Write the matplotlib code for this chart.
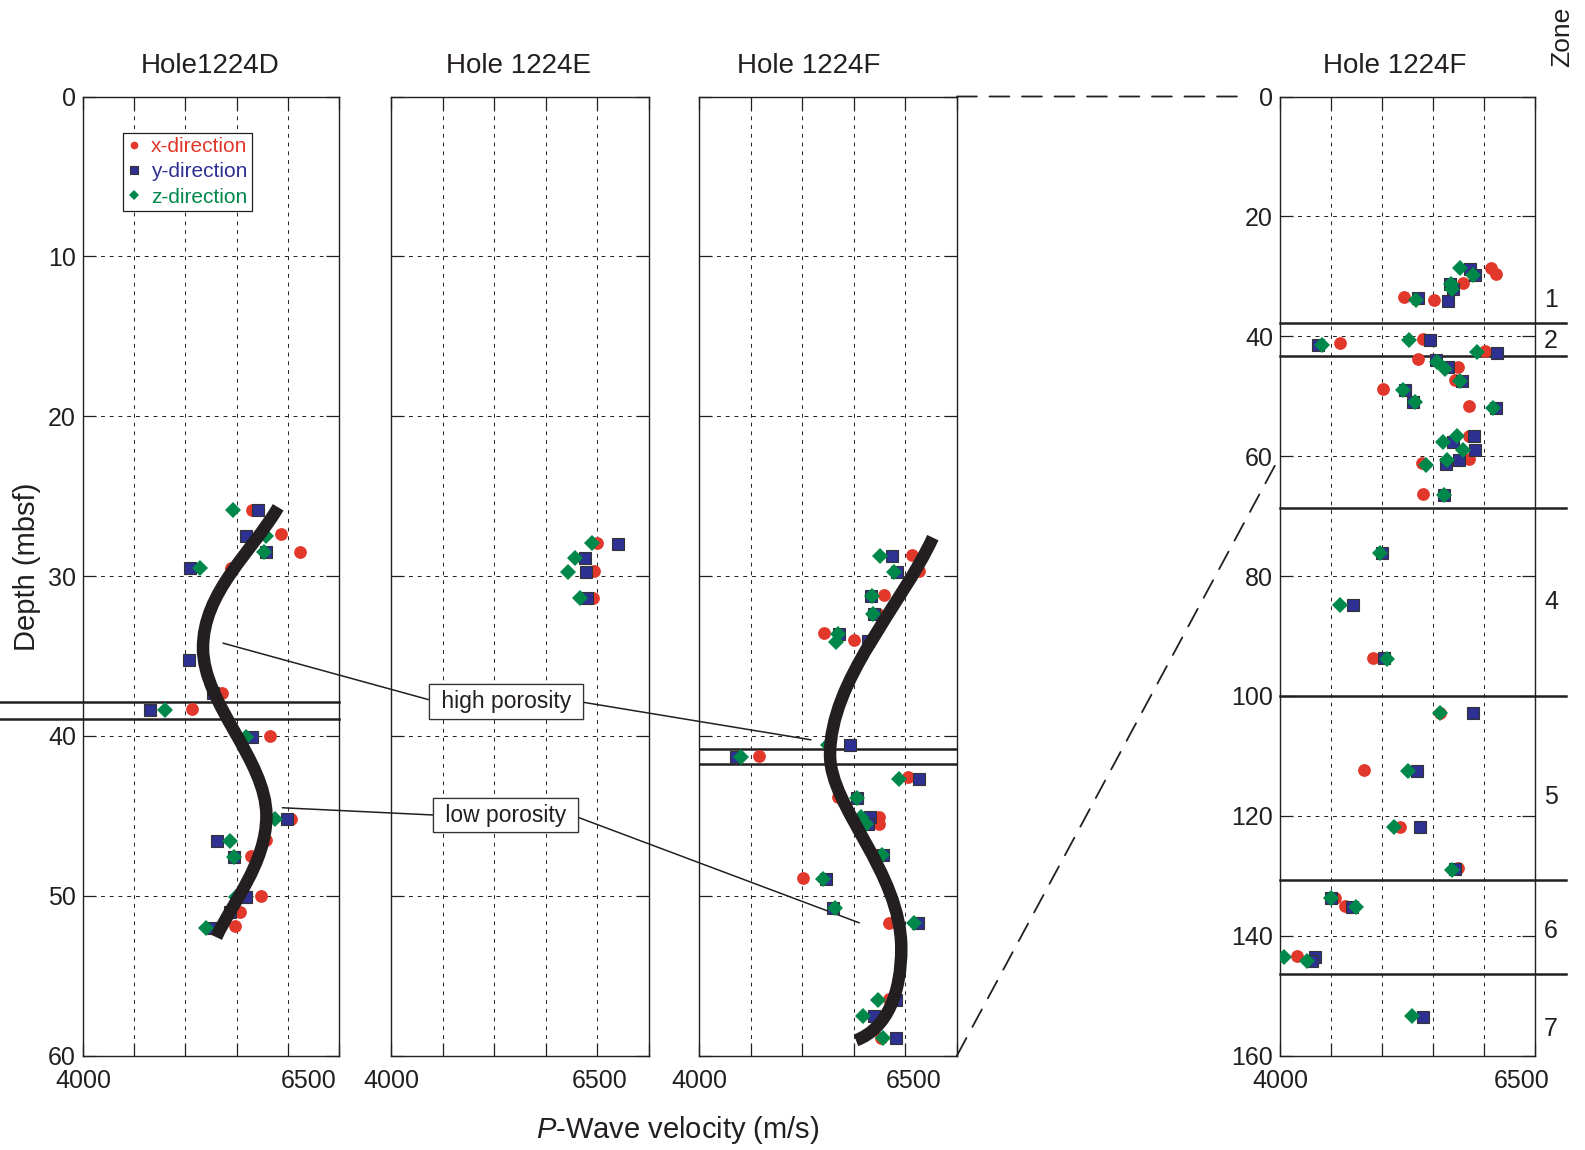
import matplotlib
matplotlib.use("Agg")
import matplotlib.pyplot as plt
import matplotlib.patches as mpatches
from matplotlib.path import Path
from matplotlib.transforms import ScaledTranslation

plt.rcParams["font.family"] = "Liberation Sans"
plt.rcParams["mathtext.fontset"] = "custom"
plt.rcParams["mathtext.rm"] = "Liberation Sans"
plt.rcParams["mathtext.it"] = "Liberation Sans:italic"

# ============================================================
# Data (velocity m/s, depth mbsf)
# ============================================================

# Hole 1224D
D_x_vel = [5650, 5937, 6116, 5449, 5361, 5068, 5823, 6028, 5791, 5644, 5742, 5530, 5481]
D_x_dep = [25.9, 27.4, 28.5, 29.5, 37.3, 38.3, 40.0, 45.2, 46.5, 47.5, 50.0, 51.0, 51.9]
D_y_vel = [5709, 5596, 5791, 5049, 5035, 5270, 4651, 5654, 5996, 5309, 5475, 5596, 5439, 5270]
D_y_dep = [25.9, 27.5, 28.5, 29.5, 35.25, 37.3, 38.4, 40.1, 45.2, 46.6, 47.6, 50.1, 51.0, 52.0]
D_z_vel = [5465, 5784, 5768, 5147, 4801, 5589, 5872, 5433, 5475, 5498, 5205]
D_z_dep = [25.9, 27.5, 28.5, 29.5, 38.4, 40.1, 45.2, 46.6, 47.6, 50.1, 52.0]

# Hole 1224E
E_x_vel = [6000, 5969, 5959]
E_x_dep = [27.95, 29.7, 31.4]
E_y_vel = [6197, 5875, 5891, 5897]
E_y_dep = [28.0, 28.85, 29.75, 31.4]
E_z_vel = [5947, 5781, 5712, 5828]
E_z_dep = [27.95, 28.85, 29.75, 31.4]

# Hole 1224F (0-60 m)
F_x_vel = [6065, 6130, 5796, 5731, 5213, 5504, 4581, 6023, 5343, 5748, 5748, 5715,
           5009, 5845, 5845, 5764]
F_x_dep = [28.66, 29.7, 31.18, 32.35, 33.58, 34.02, 41.24, 42.58, 43.85, 45.08, 45.49,
           47.43, 48.88, 51.74, 56.48, 58.89]
F_y_vel = [5867, 5919, 5667, 5699, 5352, 5634, 5466, 4354, 6130, 5531, 5660, 5634,
           5780, 5229, 5294, 6120, 5910, 5699, 5910]
F_y_dep = [28.73, 29.78, 31.27, 32.35, 33.64, 34.09, 40.57, 41.33, 42.67, 43.92, 45.08,
           45.49, 47.43, 48.93, 50.78, 51.74, 56.53, 57.55, 58.89]
F_z_vel = [5757, 5893, 5676, 5689, 5346, 5326, 5252, 4403, 5936, 5531, 5569, 5618,
           5770, 5197, 5320, 6088, 5731, 5592, 5786]
F_z_dep = [28.73, 29.78, 31.27, 32.4, 33.64, 34.13, 40.57, 41.33, 42.67, 43.92, 45.08,
           45.53, 47.47, 48.93, 50.78, 51.74, 56.53, 57.55, 58.89]

# Hole 1224F (0-160 m)
G_x_vel = [6073, 6116, 5796, 5216, 5509, 4590, 5399, 6008, 5356, 5747, 5715, 5014,
           5855, 5855, 5855, 5389, 5399, 4910, 5568, 4828, 5177, 5747, 4541, 4639, 4166]
G_x_dep = [28.55, 29.66, 31.06, 33.46, 34.0, 41.2, 40.45, 42.5, 43.8, 45.2, 47.26, 48.83,
           51.6, 56.65, 60.4, 61.1, 66.4, 93.6, 102.9, 112.4, 121.8, 128.7, 133.65, 135.0,
           143.4]
G_y_vel = [5861, 5910, 5666, 5699, 5356, 5650, 4368, 5470, 6132, 5529, 5650, 5780,
           5226, 5301, 6116, 5904, 5699, 5910, 5754, 5627, 5610, 4998, 4714, 5020,
           5894, 5346, 5372, 5715, 4502, 4704, 4339, 4313, 5405]
G_y_dep = [28.7, 29.7, 31.2, 32.2, 33.6, 34.1, 41.4, 40.6, 42.8, 43.9, 45.2, 47.54,
           49.0, 50.95, 51.9, 56.65, 57.65, 59.0, 60.6, 61.3, 66.5, 76.1, 84.8, 93.76,
           102.9, 112.5, 121.9, 128.9, 133.65, 135.2, 143.6, 144.2, 153.5]
G_z_vel = [5764, 5894, 5676, 5682, 5333, 4411, 5265, 5936, 5535, 5617, 5764, 5203,
           5324, 6090, 5731, 5594, 5790, 5633, 5428, 5610, 4981, 4590, 5046, 5568,
           5258, 5121, 5682, 4502, 4747, 4042, 4264, 5297]
G_z_dep = [28.6, 29.83, 31.2, 32.2, 34.0, 41.4, 40.6, 42.7, 44.36, 45.5, 47.54, 49.0,
           50.95, 51.9, 56.65, 57.65, 58.9, 60.6, 61.4, 66.5, 76.1, 84.8, 93.9, 102.9,
           112.5, 121.9, 129.0, 133.8, 135.2, 143.6, 144.25, 153.4]

# porosity trend curves (cubic Bezier control points)
D_curve_vel = [5906, 5650, 5172, 5172, 5172, 5791, 5791, 5791, 5450, 5302]
D_curve_dep = [25.7, 28.5, 31.0, 34.5, 38.0, 41.5, 45.0, 48.0, 50.5, 52.6]
F_curve_vel = [6266, 5950, 5270, 5270, 5270, 5960, 5960, 5960, 5830, 5521]
F_curve_dep = [27.6, 32.0, 36.5, 41.2, 44.5, 48.5, 53.3, 56.0, 58.3, 59.05]

# boundaries
D_bounds = [37.9, 38.96]
F_bounds = [40.85, 41.75]
G_bounds = [37.8, 43.35, 68.6, 100.0, 130.8, 146.4]
zone_names = ["1", "2", "4", "5", "6", "7"]
zone_depths = [33.9, 40.8, 84.4, 116.9, 139.2, 155.5]

titles = ["Hole1224D", "Hole 1224E", "Hole 1224F", "Hole 1224F"]
vel_ticks = [4000, 4500, 5000, 5500, 6000, 6500]
vel_labels = ["4000", "", "", "", "", "6500"]

RED = "#e2382b"
BLUE = "#2e3192"
GREEN = "#00874a"
INK = "#231f20"

# ============================================================
# Figure
# ============================================================

W, H = 1585, 1150
fig = plt.figure(figsize=(W / 100, H / 100), dpi=100)


def add_px_axes(left, top, width, height):
    return fig.add_axes([left / W, 1 - (top + height) / H, width / W, height / H])


top, height = 96.5, 959
ax1 = add_px_axes(83, top, 256, height)
ax2 = add_px_axes(391, top, 258, height)
ax3 = add_px_axes(699, top, 258, height)
ax4 = add_px_axes(1280, top, 255, height)
axes = [ax1, ax2, ax3, ax4]

label_shift = [-30, -49, -43, -13]
title_x = [0.496, 0.494, 0.425, 0.45]

for i, ax in enumerate(axes):
    ax.set_facecolor("none")
    ax.set_xlim(4000, 6500)
    ax.set_xticks(vel_ticks)
    ax.set_xticklabels(vel_labels)
    if i < 3:
        ax.set_ylim(60, 0)
        ax.set_yticks(range(0, 61, 10))
    else:
        ax.set_ylim(160, 0)
        ax.set_yticks(range(0, 161, 20))
    if i in (1, 2):
        ax.set_yticklabels([])
    ax.tick_params(direction="in", length=9.5, width=0.9, top=True, right=True,
                   labelsize=18, colors=INK)
    ax.tick_params(axis="x", pad=10)
    ax.tick_params(axis="y", pad=5)
    ax.grid(True, color=INK, lw=0.7, linestyle=(0, (4, 5)))
    for sp in ax.spines.values():
        sp.set_linewidth(1.0)
        sp.set_color(INK)
    ax.set_title(titles[i], fontsize=20, color=INK, x=title_x[i], pad=17)

    lab = ax.get_xticklabels()[-1]
    lab.set_transform(lab.get_transform()
                      + ScaledTranslation(label_shift[i] / 100, 0, fig.dpi_scale_trans))


def draw_points(ax, xv, xd, yv, yd, zv, zd):
    ax.plot(xv, xd, ls="none", marker="o", ms=9.2, mfc=RED, mec=RED, mew=0,
            label="x-direction", zorder=3)
    ax.plot(yv, yd, ls="none", marker="s", ms=9.3, mfc=BLUE, mec="#333333", mew=0.8,
            label="y-direction", zorder=4)
    ax.plot(zv, zd, ls="none", marker="D", ms=8.0, mfc=GREEN, mec=GREEN, mew=0,
            label="z-direction", zorder=5)


draw_points(ax1, D_x_vel, D_x_dep, D_y_vel, D_y_dep, D_z_vel, D_z_dep)
draw_points(ax2, E_x_vel, E_x_dep, E_y_vel, E_y_dep, E_z_vel, E_z_dep)
draw_points(ax3, F_x_vel, F_x_dep, F_y_vel, F_y_dep, F_z_vel, F_z_dep)
draw_points(ax4, G_x_vel, G_x_dep, G_y_vel, G_y_dep, G_z_vel, G_z_dep)


def draw_curve(ax, vel, dep):
    codes = [Path.MOVETO] + [Path.CURVE4] * (len(vel) - 1)
    path = Path(list(zip(vel, dep)), codes)
    ax.add_patch(mpatches.PathPatch(path, fc="none", ec=INK, lw=9,
                                    capstyle="butt", zorder=6))


draw_curve(ax1, D_curve_vel, D_curve_dep)
draw_curve(ax3, F_curve_vel, F_curve_dep)

# boundaries
for d in D_bounds:
    ax1.axhline(d, xmin=-83 / 256, xmax=1, color=INK, lw=1.8, clip_on=False, zorder=2)
for d in F_bounds:
    ax3.axhline(d, xmin=0, xmax=1, color=INK, lw=1.8, zorder=2)
for d in G_bounds:
    ax4.axhline(d, xmin=0, xmax=1.12, color=INK, lw=1.8, clip_on=False, zorder=2)
for name, d in zip(zone_names, zone_depths):
    ax4.text(1.063, d, name, transform=ax4.get_yaxis_transform(), fontsize=18,
             color=INK, ha="center", va="center")

# legend
leg = ax1.legend(loc="upper left", bbox_to_anchor=(0.156, 0.962), borderaxespad=0,
                 fontsize=15, markerscale=0.6, handlelength=0.7, handletextpad=0.45,
                 borderpad=0.2, labelspacing=0.3, fancybox=False, framealpha=1,
                 edgecolor=INK)
leg.get_frame().set_linewidth(0.9)
for txt, col in zip(leg.get_texts(), [RED, BLUE, GREEN]):
    txt.set_color(col)

# porosity annotations
box = dict(boxstyle="square,pad=0.25", fc="white", ec="#333333", lw=0.9)
notes = [
    ("high porosity", (5114, 37.84), ax1, (5367, 34.2), (0, 0.5)),
    ("high porosity", (5114, 37.84), ax3, (5085, 40.25), (1, 0.5)),
    ("low porosity", (5112, 44.97), ax1, (5947, 44.5), (0, 0.5)),
    ("low porosity", (5112, 44.97), ax3, (5553, 51.7), (1, 0.5)),
]
for text, pos, target, pt, rel in notes:
    ax2.annotate(" " + text + " ", xy=pt, xycoords=target.transData, xytext=pos,
                 textcoords="data", ha="center", va="center", fontsize=16.5,
                 color=INK, bbox=box, zorder=7,
                 arrowprops=dict(arrowstyle="-", lw=1.1, color=INK, relpos=rel,
                                 shrinkA=0, shrinkB=0))

# zoom connectors
for d, shrink in [(0, 25), (60, 0)]:
    con = mpatches.ConnectionPatch(xyA=(6500, d), coordsA=ax3.transData,
                                   xyB=(4000, d), coordsB=ax4.transData,
                                   color=INK, lw=1.3, linestyle=(0, (11, 7)),
                                   shrinkA=0, shrinkB=shrink)
    fig.add_artist(con)

# axis labels
fig.text(27 / W, 1 - 567 / H, "Depth (mbsf)", rotation=90, fontsize=21, color=INK,
         ha="center", va="center")
fig.text(678 / W, 1 - 1130 / H, r"$\it{P}$-Wave velocity (m/s)", fontsize=21,
         color=INK, ha="center", va="center")
fig.text(1562 / W, 1 - 37 / H, "Zone", rotation=90, fontsize=19, color=INK,
         ha="center", va="center")

fig.savefig("out.png", dpi=100)
